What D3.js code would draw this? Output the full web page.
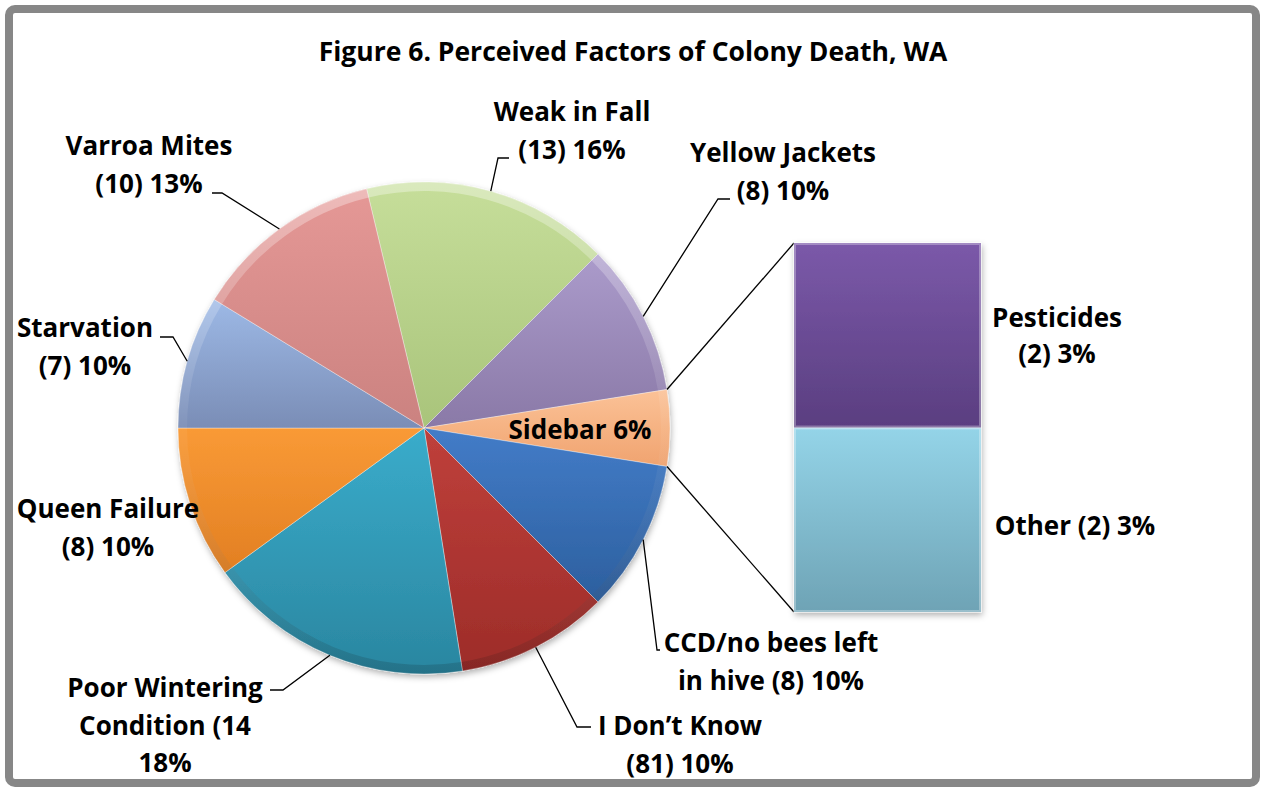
<!DOCTYPE html>
<html>
<head>
<meta charset="utf-8">
<script src="https://cdn.jsdelivr.net/npm/d3@7"></script>
<style>
  html, body { margin: 0; padding: 0; background: #fff; }
  svg { display: block; }
  text { font-family: "Open Sans", "DejaVu Sans", sans-serif; font-weight: 700; fill: #000; }
</style>
</head>
<body>
<svg id="chart" width="1262" height="787"></svg>
<script>
// ---------------- DATA ----------------
const title = "Figure 6. Perceived Factors of Colony Death, WA";
const categories = ["Weak in Fall", "Yellow Jackets", "Sidebar", "CCD/no bees left in hive",
  "I Don\u2019t Know", "Poor Wintering Condition", "Queen Failure", "Starvation", "Varroa Mites"];
const counts = [13, 8, 4, 8, 8, 14, 8, 7, 10];
const labelText = [
  ["Weak in Fall", "(13) 16%"],
  ["Yellow Jackets", "(8) 10%"],
  ["Sidebar 6%"],
  ["CCD/no bees left", "in hive (8) 10%"],
  ["I Don\u2019t Know", "(81) 10%"],
  ["Poor Wintering", "Condition (14", "18%"],
  ["Queen Failure", "(8) 10%"],
  ["Starvation", "(7) 10%"],
  ["Varroa Mites", "(10) 13%"]
];
const sidebarIndex = 2;
const barCategories = ["Other", "Pesticides"];
const barCounts = [2, 2];
const barLabelText = [["Other (2) 3%"], ["Pesticides", "(2) 3%"]];

// ---------------- STYLE / LAYOUT ----------------
const W = 1262, H = 787;
const cx = 424, cy = 428, R = 246;
const sliceColors = [
  ["#c6de9a", "#a9c47b"], // weak in fall
  ["#ab9bcb", "#8a79a7"], // yellow jackets
  ["#fbc297", "#f0a36f"], // sidebar
  ["#437cc8", "#2c5f9e"], // CCD
  ["#bf403b", "#9d2c29"], // I don't know
  ["#3aaccb", "#2a86a0"], // poor wintering
  ["#f99a36", "#e27f22"], // queen failure
  ["#9db9e6", "#7a8db6"], // starvation
  ["#e59896", "#cb8280"]  // varroa
];
const barColors = [["#94d4e8", "#6ea3b5"], ["#7b59a9", "#5a3e80"]];
// label anchors: [centerX, firstBaseline], leader: [elbow, end] or null
const labelLayout = [
  { x: 572, y: 121, leader: [[498, 158], [509, 158]] },
  { x: 783, y: 162, leader: [[718, 199], [730, 199]] },
  { x: 580, y: 439, leader: null },
  { x: 771, y: 652, leader: [[657, 650], [660, 650]] },
  { x: 680, y: 735, leader: [[577, 727], [591, 727]] },
  { x: 165, y: 697, leader: [[283, 690], [270, 690]] },
  { x: 108, y: 518, leader: null },
  { x: 85,  y: 337, leader: [[173, 337], [160, 337]] },
  { x: 149, y: 155, leader: [[222, 193], [212, 193]] }
];
const barLabelLayout = [ { x: 1075, y: 535 }, { x: 1057, y: 327 } ];
const lineH = 37.5;
const barX = 794, barW = 187, barTop = 243, barBottom = 612;

// ---------------- DRAW ----------------
const svg = d3.select("#chart");
const defs = svg.append("defs");

svg.append("rect").attr("x", 0).attr("y", 0).attr("width", W).attr("height", H).attr("fill", "#fff");
svg.append("rect").attr("x", 9).attr("y", 9).attr("width", 1247).attr("height", 774)
  .attr("rx", 6).attr("fill", "#fff").attr("stroke", "#878787").attr("stroke-width", 8);

svg.append("text").attr("x", 633).attr("y", 61).attr("text-anchor", "middle")
  .attr("font-size", 26.5).text(title);

// drop shadow filter
const f = defs.append("filter").attr("id", "shadow").attr("x", "-10%").attr("y", "-10%").attr("width", "130%").attr("height", "130%");
f.append("feDropShadow").attr("dx", 1).attr("dy", 3).attr("stdDeviation", 3).attr("flood-color", "#000").attr("flood-opacity", 0.3);

function grad(id, c) {
  const g = defs.append("linearGradient").attr("id", id).attr("x1", 0).attr("y1", 0).attr("x2", 0).attr("y2", 1);
  g.append("stop").attr("offset", "0%").attr("stop-color", c[0]);
  g.append("stop").attr("offset", "100%").attr("stop-color", c[1]);
}
sliceColors.forEach((c, i) => grad("sg" + i, c));
barColors.forEach((c, i) => grad("bg" + i, c));

const total = d3.sum(counts);
const before = d3.sum(counts.slice(0, sidebarIndex)) + counts[sidebarIndex] / 2;
const startAngle = Math.PI / 2 - before / total * 2 * Math.PI;

const pie = d3.pie().sort(null).startAngle(startAngle).endAngle(startAngle + 2 * Math.PI);
const arcs = pie(counts);
const arc = d3.arc().innerRadius(0).outerRadius(R);
const rimArc = d3.arc().innerRadius(R - 9).outerRadius(R);
const edgeArc = d3.arc().innerRadius(R).outerRadius(R);

const pg = svg.append("g").attr("transform", `translate(${cx},${cy})`);
const sg = pg.append("g").attr("filter", "url(#shadow)");
sg.selectAll("path.slice").data(arcs).join("path").attr("class", "slice")
  .attr("d", arc).attr("fill", (d, i) => `url(#sg${i})`)
  .attr("stroke", "rgba(255,255,255,0.35)").attr("stroke-width", 1);

// bevel rim
const rimG = defs.append("linearGradient").attr("id", "rim").attr("gradientUnits", "userSpaceOnUse")
  .attr("x1", 0).attr("y1", -R).attr("x2", 0).attr("y2", R);
rimG.append("stop").attr("offset", "0%").attr("stop-color", "#fff").attr("stop-opacity", 0.35);
rimG.append("stop").attr("offset", "50%").attr("stop-color", "#fff").attr("stop-opacity", 0.05);
rimG.append("stop").attr("offset", "100%").attr("stop-color", "#000").attr("stop-opacity", 0.15);
pg.selectAll("path.rim").data(arcs).join("path").attr("class", "rim")
  .attr("d", rimArc).attr("fill", "url(#rim)");

// connector lines from pie to bar
const yBar = d3.scaleLinear().domain([0, d3.sum(barCounts)]).range([barBottom, barTop]);
const sb = arcs[sidebarIndex];
const pTop = [cx + R * Math.sin(sb.startAngle), cy - R * Math.cos(sb.startAngle)];
const pBot = [cx + R * Math.sin(sb.endAngle), cy - R * Math.cos(sb.endAngle)];
svg.append("line").attr("x1", pTop[0]).attr("y1", pTop[1]).attr("x2", barX).attr("y2", yBar(d3.sum(barCounts)))
  .attr("stroke", "#000").attr("stroke-width", 1.3);
svg.append("line").attr("x1", pBot[0]).attr("y1", pBot[1]).attr("x2", barX).attr("y2", yBar(0))
  .attr("stroke", "#000").attr("stroke-width", 1.3);

// stacked bar
const stackY = d3.cumsum(barCounts);
const bgG = svg.append("g").attr("filter", "url(#shadow)");
barCounts.forEach((v, i) => {
  const y0 = yBar(stackY[i]), y1 = yBar(stackY[i] - v);
  bgG.append("rect").attr("x", barX).attr("y", y0).attr("width", barW).attr("height", y1 - y0)
    .attr("fill", `url(#bg${i})`);
  bgG.append("rect").attr("x", barX + 0.5).attr("y", y0 + 0.5).attr("width", barW - 1).attr("height", y1 - y0 - 1)
    .attr("fill", "none").attr("stroke", "rgba(255,255,255,0.3)").attr("stroke-width", 3);
});

// leaders
arcs.forEach((a, i) => {
  const L = labelLayout[i];
  if (!L.leader) return;
  const c = edgeArc.centroid(a);
  const pts = [[cx + c[0], cy + c[1]], ...L.leader];
  svg.append("path").attr("d", d3.line()(pts)).attr("fill", "none")
    .attr("stroke", "#000").attr("stroke-width", 1.3);
});

// labels
labelText.forEach((lines, i) => {
  const L = labelLayout[i];
  const t = svg.append("text").attr("text-anchor", "middle").attr("font-size", 26);
  lines.forEach((s, j) => t.append("tspan").attr("x", L.x).attr("y", L.y + j * lineH).text(s));
});
barLabelText.forEach((lines, i) => {
  const L = barLabelLayout[i];
  const t = svg.append("text").attr("text-anchor", "middle").attr("font-size", 26);
  lines.forEach((s, j) => t.append("tspan").attr("x", L.x).attr("y", L.y + j * 36).text(s));
});
</script>
</body>
</html>
